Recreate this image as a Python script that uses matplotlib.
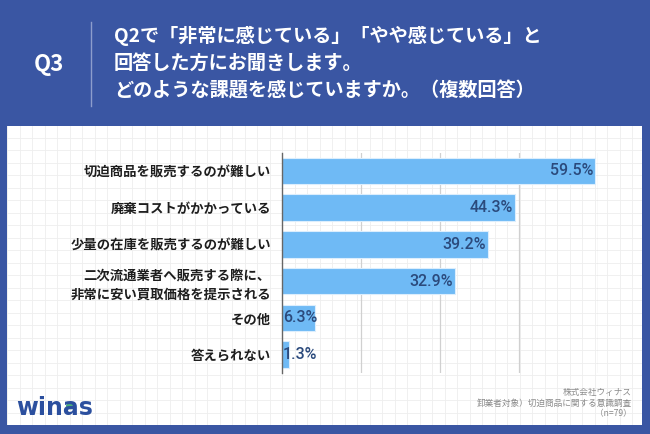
import numpy as np
import matplotlib.pyplot as plt
from matplotlib.patches import Ellipse
from matplotlib.lines import Line2D

plt.rcParams['font.family'] = ['Noto Sans CJK JP', 'DejaVu Sans']

# data
categories = [
    "切迫商品を販売するのが難しい",
    "廃棄コストがかかっている",
    "少量の在庫を販売するのが難しい",
    "二次流通業者へ販売する際に、\n非常に安い買取価格を提示される",
    "その他",
    "答えられない",
]
values = [59.5, 44.3, 39.2, 32.9, 6.3, 1.3]

title_lines = [
    "Q2で「非常に感じている」「やや感じている」と",
    "回答した方にお聞きします。",
    "どのような課題を感じていますか。（複数回答）",
]
footer_lines = ["株式会社ウィナス", "卸業者対象）切迫商品に関する意識調査", "（n=79）"]

W, H = 650, 434
blue = "#3a56a3"
bar_color = "#6fbaf5"
label_color = "#2b4a7c"

fig = plt.figure(figsize=(W / 100, H / 100), dpi=100)
fig.patch.set_facecolor(blue)

# white panel with faint grid paper
bg = fig.add_axes([7 / W, 9 / H, 635 / W, 299 / H])
bg.set_facecolor("white")
bg.set_xlim(0, 635)
bg.set_ylim(0, 299)
bg.set_xticks(np.arange(0, 635, 12.5))
bg.set_yticks(np.arange(0, 299, 12.5))
bg.grid(True, color="#eeeeee", lw=0.6)
bg.tick_params(length=0, labelbottom=False, labelleft=False)
for s in bg.spines.values():
    s.set_visible(False)
bg.set_zorder(0)

# header
fig.text(49 / W, 1 - 65 / H, "Q3", color="white", fontsize=16, fontweight="bold",
         ha="center", va="center")
fig.add_artist(Line2D([91 / W, 91 / W], [1 - 22 / H, 1 - 106 / H], color="#8d9dcc", lw=1))
for i, line in enumerate(title_lines):
    fig.text(114 / W, 1 - (36 + 27.5 * i) / H, line, color="white", fontsize=13.8,
             fontweight="bold", ha="left", va="center")

# main chart
ax = fig.add_axes([282 / W, 61 / H, 316 / W, 220.5 / H])
ax.set_zorder(2)
ax.patch.set_alpha(0)
y = np.arange(len(categories))
ax.barh(y, values, height=0.72, color=bar_color, edgecolor="#dceefd", lw=0.8, zorder=3)
ax.set_xlim(0, 60)
ax.set_ylim(len(categories) - 0.5, -0.5)
ax.set_xticks([15, 30, 45, 60])
ax.xaxis.grid(True, color="#d0d0d0", lw=0.9, zorder=1)
ax.tick_params(axis="x", length=0, labelbottom=False)
ax.set_yticks(y)
ax.set_yticklabels(categories, fontsize=9.6, fontweight="bold", color="#1e1e1e")
ax.tick_params(axis="y", length=0, pad=8)
for lab in ax.get_yticklabels():
    lab.set_linespacing(1.5)
for s in ["top", "right", "bottom"]:
    ax.spines[s].set_visible(False)
ax.spines["left"].set_color("#666666")
ax.spines["left"].set_linewidth(1)
ax.spines["left"].set_zorder(4)

for yi, v in zip(y, values):
    if v > 15:
        ax.text(v - 0.4, yi, f"{v}%", ha="right", va="center", fontsize=11.5,
                color=label_color, family="Roboto", fontweight="medium", zorder=5)
    else:
        ax.text(0.2, yi, f"{v}%", ha="left", va="center", fontsize=11.5,
                color=label_color, family="Roboto", fontweight="medium", zorder=5)

# footer
for i, line in enumerate(footer_lines):
    fig.text(632 / W, 1 - (392 + 11 * i) / H, line, color="#8a8a8a", fontsize=6.2,
             ha="right", va="center")

# logo
fig.text(16 / W, 1 - 408 / H, "winas", color="#2b4f9e", fontsize=17, fontweight="bold",
         family="DejaVu Sans", ha="left", va="center")
fig.add_artist(Ellipse((71 / W, 1 - 406 / H), 9 / W, 5 / H, angle=20, color="#4caf7a"))

fig.savefig("out.png", dpi=100, facecolor=blue)
